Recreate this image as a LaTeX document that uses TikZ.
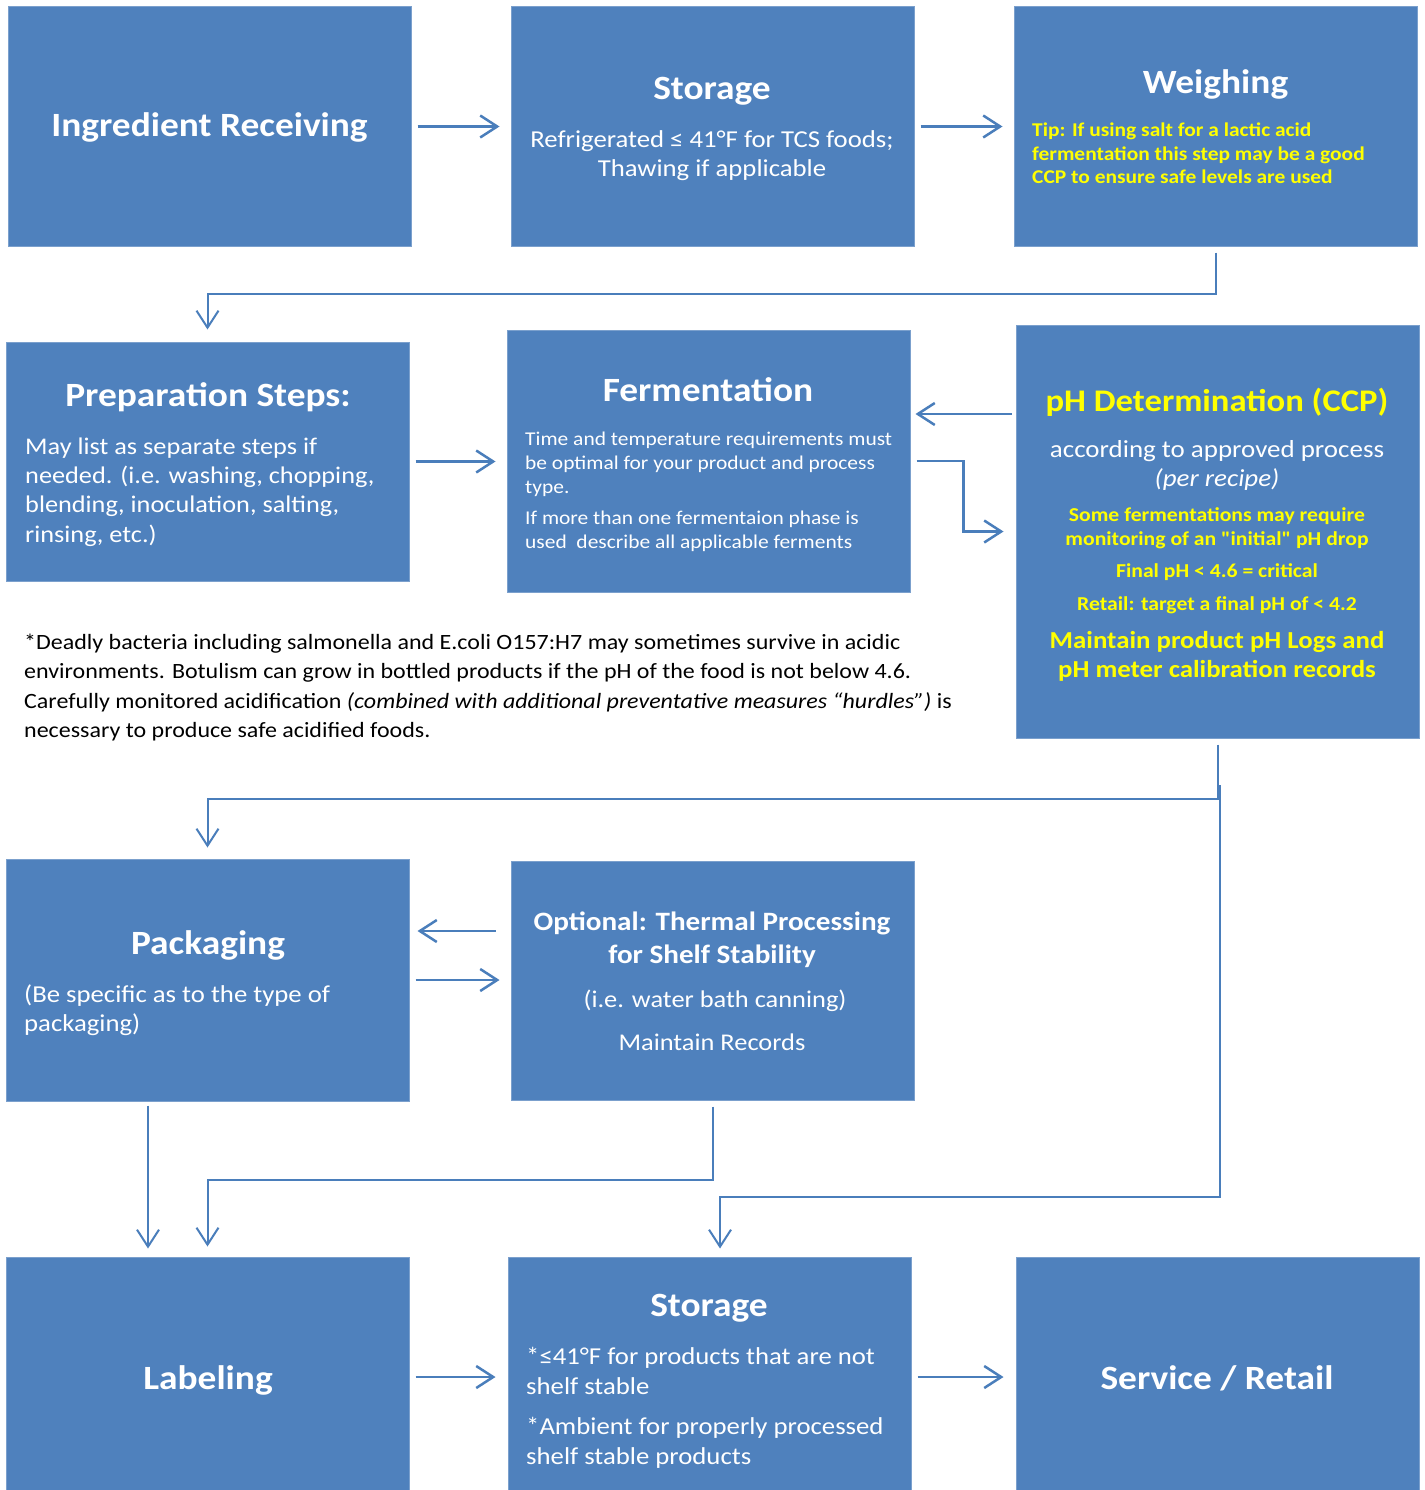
\documentclass[tikz,border=0pt]{standalone}
\usepackage{fontspec}
\setmainfont{Carlito}[FakeStretch=1.1]
\newfontfamily\qfont{Carlito}[FakeStretch=1.1]
\usetikzlibrary{arrows.meta}
\definecolor{boxblue}{HTML}{4F81BD}
\definecolor{arrblue}{HTML}{4A7EBB}
\definecolor{tipyel}{HTML}{FFFF00}
\newcommand\fsz[1]{\fontsize{#1}{#1}\selectfont}
\begin{document}
\begin{tikzpicture}[x=1pt,y=-1pt,
 box/.style={draw=boxblue!75!white, fill=boxblue, line width=1pt, inner sep=0pt, minimum width=403pt},
 arr/.style={draw=arrblue, line width=2.5pt, -{Straight Barb[length=17pt,width=22pt]}},
 con/.style={arr, line width=2pt},
 ttl/.style={text=white, font=\bfseries\fsz{34}, inner sep=0pt, anchor=base},
 bod/.style={text=white, font=\fsz{24.3}, inner sep=0pt, anchor=base},
 bodl/.style={bod, anchor=base west},
 prl/.style={bodl, font=\fsz{23.9}},
 smal/.style={text=white, font=\fsz{19.5}, inner sep=0pt, anchor=base west},
 yel/.style={text=tipyel, font=\bfseries\fsz{19.7}, inner sep=0pt, anchor=base},
 yell/.style={yel, font=\bfseries\fsz{19.5}, anchor=base west},
 yelb/.style={yel, font=\bfseries\fsz{24.4}},
 foot/.style={text=black, font=\fsz{21.8}, inner sep=0pt, anchor=base west}]
\useasboundingbox (0,0) rectangle (1424,1490);
\fill[white] (0,0) rectangle (1424,1490);
% boxes
\node[box, minimum height=239pt] (ir) at (209.5,126.5) {};
\node[box, minimum height=239pt] (st) at (712.5,126.5) {};
\node[box, minimum height=239pt] (wg) at (1215.5,126.5) {};
\node[box, minimum height=239pt] (prep) at (207.5,461.5) {};
\node[box, minimum height=262pt] (ferm) at (708.5,461) {};
\node[box, minimum height=413pt] (ph) at (1217.5,531.5) {};
\node[box, minimum height=242pt] (pack) at (207.5,980) {};
\node[box, minimum height=239pt] (therm) at (712.5,980.5) {};
\node[box, minimum height=236pt] (lab) at (207.5,1375) {};
\node[box, minimum height=236pt] (st2) at (709.5,1375) {};
\node[box, minimum height=236pt] (svc) at (1217.5,1375) {};
% texts
\node[ttl] (t1) at (209.5,137) {Ingredient Receiving};
\node[ttl] (t2) at (712,100) {Storage};
\node[bod] (t3) at (712,148) {Refrigerated ≤ 41°F for TCS foods;};
\node[bod] (t4) at (712,177) {Thawing if applicable};
\node[ttl] (t5) at (1215.5,94) {Weighing};
\node[yell] (t6) at (1032,137) {Tip: If using salt for a lactic acid};
\node[yell] (t7) at (1032,161) {fermentation this step may be a good};
\node[yell] (t8) at (1032,184) {CCP to ensure safe levels are used};
\node[ttl] (t9) at (208,406) {Preparation Steps:};
\node[prl] (t10) at (25,454) {May list as separate steps if};
\node[prl] (t11) at (25,483) {needed. (i.e. washing, chopping,};
\node[prl] (t12) at (25,512) {blending, inoculation, salting,};
\node[prl] (t13) at (25,542) {rinsing, etc.)};
\node[ttl] (t14) at (708,401) {Fermentation};
\node[smal] (t15) at (525,445) {Time and temperature requirements must};
\node[smal] (t16) at (525,469) {be optimal for your product and process};
\node[smal] (t17) at (525,493) {type.};
\node[smal] (t18) at (525,524) {If more than one fermentaion phase is};
\node[smal] (t19) at (525,548) {used\ \ describe all applicable ferments};
\node[ttl, text=tipyel, font=\bfseries\fsz{31.5}] (t20) at (1217,411) {pH Determination (CCP)};
\node[bod, font=\fsz{24.5}] (t21) at (1217,457) {according to approved process};
\node[bod, font=\itshape\fsz{24.5}] (t22) at (1217,486) {(per recipe)};
\node[yel] (t23) at (1217,521) {Some fermentations may require};
\node[yel] (t24) at (1217,545) {monitoring of an {\qfont"}initial{\qfont"} pH drop};
\node[yel] (t25) at (1217,577) {Final pH < 4.6 = critical};
\node[yel] (t26) at (1217,610) {Retail: target a final pH of < 4.2};
\node[yelb] (t27) at (1217,648) {Maintain product pH Logs and};
\node[yelb] (t28) at (1217,677) {pH meter calibration records};
\node[foot] (f1) at (24,649) {*Deadly bacteria including salmonella and E.coli O157:H7 may sometimes survive in acidic};
\node[foot] (f2) at (24,678) {environments. Botulism can grow in bottled products if the pH of the food is not below 4.6.};
\node[foot] (f3) at (24,708) {Carefully monitored acidification \textit{(combined with additional preventative measures “hurdles”)} is};
\node[foot] (f4) at (24,737) {necessary to produce safe acidified foods.};
\node[ttl] (t29) at (208,954) {Packaging};
\node[bodl] (t30) at (24,1002) {(Be specific as to the type of};
\node[bodl] (t31) at (24,1031) {packaging)};
\node[ttl, font=\bfseries\fsz{26.5}] (t32) at (712,930) {Optional: Thermal Processing};
\node[ttl, font=\bfseries\fsz{26.5}] (t33) at (712,963) {for Shelf Stability};
\node[bod, font=\fsz{24}] (t34) at (715,1007) {(i.e. water bath canning)};
\node[bod, font=\fsz{24}] (t35) at (712,1050) {Maintain Records};
\node[ttl] (t36) at (208,1389) {Labeling};
\node[ttl] (t37) at (709,1316) {Storage};
\node[bodl] (t38) at (526,1364) {*≤41°F for products that are not};
\node[bodl] (t39) at (526,1394) {shelf stable};
\node[bodl] (t40) at (526,1434) {*Ambient for properly processed};
\node[bodl] (t41) at (526,1464) {shelf stable products};
\node[ttl] (t42) at (1217,1389) {Service / Retail};
% helper rows
\coordinate (r414) at (0,414);
\coordinate (r931) at (0,931);
\coordinate (r980) at (0,980);
\coordinate (r1377) at (0,1377);
\coordinate (j2) at (1219.5,785);
% connectors
\draw[arr, shorten <=6pt, shorten >=11pt] (ir) -- (st);
\draw[arr, shorten <=6pt, shorten >=11pt] (st) -- (wg);
\draw[con] ([yshift=-6pt]wg.south) -- ++(0,41) -| ([yshift=12pt]prep.north);
\draw[arr, shorten <=6pt, shorten >=11pt] (prep.east) -- (prep.east -| ferm.west);
\draw[arr, shorten <=4pt, shorten >=5pt] (ph.west |- r414) -- (ferm.east |- r414);
\draw[arr] ([xshift=6pt]ferm.east) -- ++(47,0) |- ([xshift=-12pt]ph.west);
\draw[con] ([yshift=-6pt]ph.south) -- ++(0,54) -| ([yshift=11pt]pack.north);
\draw[con] (j2) |- ([xshift=10.5pt,yshift=60pt]st2.north) -- ([xshift=10.5pt,yshift=8pt]st2.north);
\draw[arr, shorten <=15pt, shorten >=8pt] (therm.west |- r931) -- (pack.east |- r931);
\draw[arr, shorten <=6pt, shorten >=11pt] (pack.east |- r980) -- (therm.west |- r980);
\draw[con, shorten <=4pt, shorten >=8pt] ([xshift=-59.5pt]pack.south) -- ([xshift=-59.5pt]lab.north);
\draw[con] ([yshift=-6pt]therm.south) -- ++(0,73) -| ([yshift=10pt]lab.north);
\draw[arr, shorten <=6pt, shorten >=12pt] (lab.east |- r1377) -- (st2.west |- r1377);
\draw[arr, shorten <=6pt, shorten >=12pt] (st2.east |- r1377) -- (svc.west |- r1377);
\end{tikzpicture}
\end{document}
